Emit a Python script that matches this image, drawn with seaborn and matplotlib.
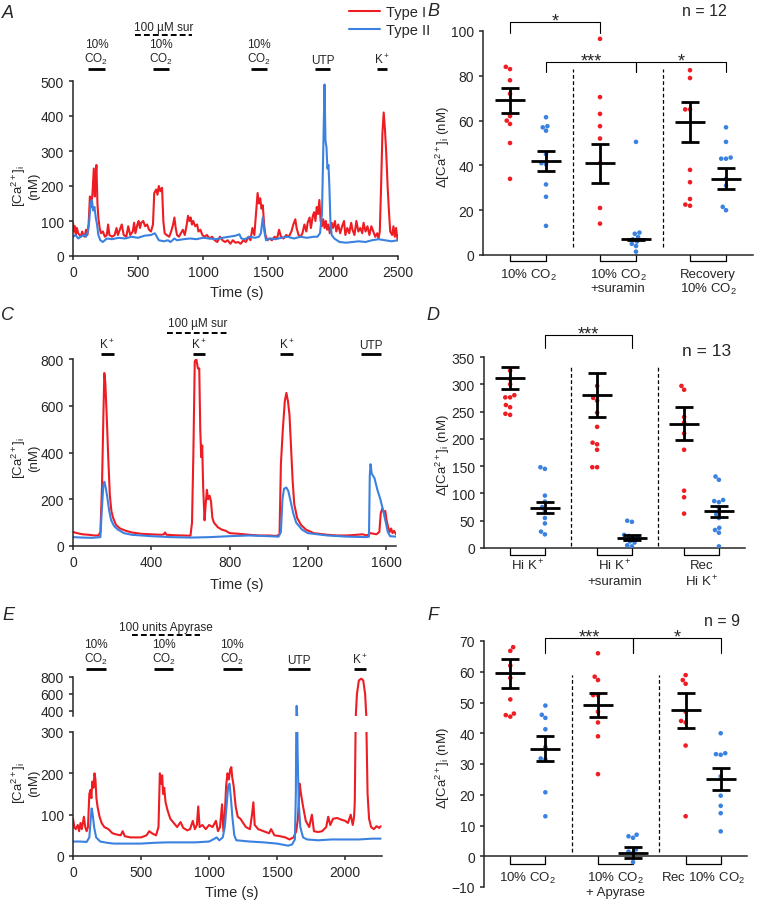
import numpy as np
import pandas as pd
import matplotlib
matplotlib.use("Agg")
import matplotlib.pyplot as plt
import matplotlib.transforms as mtransforms
from matplotlib.lines import Line2D
import seaborn as sns

RED = "#EE1D23"
BLUE = "#3B82E0"

# --- traces (time s, [Ca2+]i nM) ---
a_red = [[0, 95], [8, 70], [15, 85], [22, 60], [30, 80], [40, 65], [50, 60], [60, 55], [70, 70], [80, 60],
         [90, 55], [100, 75], [110, 60], [120, 90], [130, 170], [140, 140], [150, 180], [160, 250], [168, 170],
         [175, 230], [180, 260], [188, 150], [195, 110], [205, 80], [215, 65], [230, 70], [245, 55], [260, 60],
         [270, 90], [280, 60], [300, 55], [320, 60], [335, 80], [345, 60], [360, 75], [375, 90], [390, 60],
         [410, 55], [425, 85], [440, 60], [460, 70], [470, 95], [480, 65], [495, 90], [505, 100], [515, 80],
         [525, 95], [540, 100], [555, 85], [570, 90], [585, 75], [600, 70], [615, 90], [625, 180], [640, 190],
         [650, 175], [660, 200], [672, 185], [685, 195], [695, 100], [705, 65], [720, 60], [740, 55], [755, 70],
         [770, 90], [780, 110], [790, 80], [800, 60], [815, 55], [830, 65], [845, 75], [860, 60], [875, 90],
         [885, 115], [895, 100], [905, 110], [915, 90], [925, 100], [940, 85], [955, 90], [965, 70], [980, 75],
         [995, 60], [1010, 55], [1030, 60], [1050, 50], [1070, 55], [1090, 45], [1110, 40], [1130, 55],
         [1150, 45], [1170, 40], [1190, 45], [1210, 35], [1230, 45], [1250, 38], [1270, 40], [1290, 35],
         [1310, 45], [1330, 40], [1350, 55], [1365, 45], [1380, 80], [1395, 60], [1410, 130], [1420, 180],
         [1430, 150], [1440, 165], [1450, 135], [1460, 145], [1470, 90], [1480, 60], [1495, 45], [1510, 50],
         [1530, 45], [1550, 55], [1570, 50], [1585, 75], [1600, 55], [1620, 50], [1640, 60], [1660, 55],
         [1680, 70], [1695, 90], [1710, 105], [1720, 80], [1735, 60], [1750, 55], [1765, 65], [1780, 90],
         [1795, 70], [1805, 95], [1820, 110], [1830, 80], [1845, 115], [1855, 125], [1865, 100], [1875, 140],
         [1885, 120], [1895, 160], [1905, 100], [1915, 85], [1925, 105], [1935, 80], [1945, 100], [1955, 75],
         [1965, 90], [1975, 65], [1990, 95], [2000, 80], [2015, 100], [2025, 70], [2040, 90], [2055, 65],
         [2070, 85], [2085, 100], [2095, 60], [2110, 80], [2125, 65], [2140, 95], [2150, 75], [2165, 60],
         [2180, 100], [2195, 70], [2210, 80], [2225, 65], [2235, 95], [2250, 70], [2265, 85], [2280, 60],
         [2295, 85], [2310, 70], [2325, 55], [2340, 65], [2350, 50], [2360, 70], [2370, 200], [2380, 350],
         [2390, 410], [2400, 360], [2410, 290], [2420, 200], [2430, 130], [2440, 70], [2455, 60], [2465, 85],
         [2475, 55], [2485, 80], [2495, 50], [2500, 45]]
a_blue = [[0, 55], [20, 60], [40, 50], [60, 55], [80, 60], [100, 55], [115, 70], [125, 100], [135, 150],
          [145, 160], [155, 130], [165, 140], [175, 110], [185, 90], [195, 60], [210, 45], [230, 40], [260, 50],
          [300, 48], [350, 52], [400, 50], [450, 55], [500, 52], [550, 58], [600, 60], [630, 65], [645, 55],
          [660, 45], [700, 42], [730, 45], [750, 40], [780, 50], [800, 45], [850, 48], [900, 50], [950, 48],
          [1000, 52], [1050, 50], [1100, 48], [1150, 52], [1200, 55], [1250, 58], [1280, 62], [1295, 50],
          [1320, 48], [1360, 55], [1400, 52], [1430, 55], [1445, 65], [1460, 110], [1472, 70], [1485, 45],
          [1520, 50], [1560, 48], [1600, 52], [1650, 55], [1700, 50], [1750, 55], [1800, 52], [1850, 55],
          [1880, 55], [1900, 65], [1915, 120], [1925, 300], [1935, 490], [1942, 330], [1950, 310], [1957, 250],
          [1965, 260], [1972, 200], [1980, 100], [1990, 60], [2010, 50], [2050, 40], [2100, 38], [2150, 40],
          [2200, 42], [2250, 40], [2300, 45], [2350, 48], [2400, 45], [2450, 42], [2500, 45]]

c_red = [[0, 60], [20, 55], [50, 50], [80, 48], [110, 45], [130, 45], [140, 60], [148, 250], [155, 550],
         [160, 740], [165, 700], [172, 560], [180, 380], [188, 220], [196, 150], [205, 120], [220, 90], [240, 75],
         [270, 65], [300, 58], [350, 52], [400, 50], [450, 48], [465, 50], [470, 58], [478, 48], [520, 46],
         [560, 45], [600, 44], [608, 100], [615, 400], [622, 790], [630, 800], [638, 760], [645, 760],
         [650, 500], [655, 380], [660, 430], [665, 250], [672, 110], [678, 180], [684, 240], [690, 200],
         [698, 215], [705, 190], [712, 120], [720, 100], [740, 80], [760, 70], [780, 65], [800, 55], [850, 52],
         [900, 48], [950, 45], [1000, 45], [1040, 43], [1055, 50], [1062, 350], [1072, 500], [1082, 620],
         [1090, 655], [1098, 620], [1106, 560], [1114, 420], [1122, 280], [1130, 180], [1145, 120], [1165, 90],
         [1190, 70], [1230, 55], [1300, 48], [1350, 45], [1400, 45], [1450, 48], [1480, 50], [1500, 45],
         [1520, 55], [1550, 50], [1565, 60], [1572, 140], [1580, 160], [1588, 145], [1595, 150], [1602, 110],
         [1610, 80], [1618, 60], [1625, 75], [1632, 55], [1640, 65], [1650, 50]]
c_blue = [[0, 38], [50, 36], [100, 35], [140, 38], [147, 150], [155, 260], [160, 275], [167, 250], [175, 210],
          [185, 150], [195, 110], [210, 85], [230, 70], [260, 55], [300, 48], [400, 42], [500, 38], [600, 36],
          [700, 38], [800, 42], [900, 45], [1000, 42], [1050, 40], [1062, 60], [1070, 200], [1078, 245],
          [1090, 250], [1100, 235], [1112, 190], [1125, 140], [1140, 100], [1170, 70], [1200, 55], [1300, 45],
          [1400, 40], [1500, 38], [1512, 40], [1516, 300], [1520, 350], [1526, 310], [1533, 300], [1540, 290],
          [1555, 240], [1570, 200], [1585, 150], [1598, 100], [1608, 60], [1620, 42], [1650, 40]]

e_red = [[0, 90], [10, 70], [20, 65], [35, 75], [45, 60], [55, 80], [65, 65], [80, 95], [90, 70], [100, 60],
         [110, 70], [120, 150], [128, 160], [135, 140], [142, 180], [150, 165], [158, 200], [165, 185],
         [172, 140], [180, 120], [195, 95], [210, 80], [230, 70], [260, 65], [290, 55], [320, 52], [350, 50],
         [365, 60], [380, 48], [420, 45], [460, 45], [500, 45], [540, 50], [560, 60], [580, 55], [610, 50],
         [628, 70], [638, 200], [648, 175], [655, 195], [662, 150], [670, 165], [680, 130], [695, 110],
         [715, 90], [740, 80], [765, 70], [790, 82], [810, 68], [840, 62], [860, 65], [880, 85], [895, 65],
         [910, 75], [920, 120], [930, 70], [950, 75], [975, 65], [1000, 75], [1025, 70], [1050, 85], [1065, 60],
         [1080, 70], [1095, 125], [1105, 60], [1115, 100], [1125, 170], [1135, 200], [1145, 185], [1155, 210],
         [1163, 215], [1170, 190], [1180, 170], [1195, 120], [1210, 95], [1230, 90], [1250, 80], [1270, 70],
         [1300, 65], [1315, 100], [1325, 130], [1335, 75], [1360, 65], [1400, 60], [1440, 55], [1455, 65],
         [1480, 50], [1520, 48], [1560, 45], [1590, 40], [1620, 45], [1640, 60], [1652, 90], [1665, 175],
         [1675, 150], [1690, 120], [1710, 85], [1735, 70], [1755, 100], [1770, 60], [1800, 58], [1830, 60],
         [1860, 70], [1875, 95], [1890, 75], [1910, 90], [1940, 92], [1970, 88], [2000, 85], [2020, 80],
         [2040, 100], [2055, 75], [2065, 95], [2070, 130], [2076, 300], [2086, 600], [2100, 760], [2118, 780],
         [2132, 760], [2146, 600], [2156, 300], [2164, 150], [2175, 90], [2190, 70], [2210, 65], [2230, 72],
         [2250, 68], [2260, 72]]
e_blue = [[0, 35], [50, 35], [100, 34], [120, 45], [130, 90], [137, 115], [145, 100], [155, 70], [170, 45],
          [200, 35], [250, 32], [300, 30], [400, 30], [500, 30], [600, 32], [700, 33], [800, 33], [900, 33],
          [1000, 35], [1040, 42], [1055, 45], [1075, 38], [1100, 45], [1115, 70], [1128, 120], [1140, 170],
          [1150, 175], [1160, 140], [1172, 90], [1185, 50], [1200, 38], [1300, 35], [1400, 33], [1500, 30],
          [1580, 25], [1610, 28], [1630, 40], [1637, 150], [1643, 460], [1650, 250], [1658, 130], [1670, 70],
          [1690, 45], [1720, 40], [1800, 38], [1900, 40], [2000, 40], [2100, 40], [2200, 42], [2260, 42]]

# stimulus bars: (label, start s, end s)
a_stim = [("10%\nCO$_2$", 115, 246), ("10%\nCO$_2$", 615, 738), ("10%\nCO$_2$", 1369, 1492),
          ("UTP", 1862, 1977), ("K$^+$", 2338, 2415)]
c_stim = [("K$^+$", 142, 207), ("K$^+$", 612, 673), ("K$^+$", 1059, 1123), ("UTP", 1472, 1573)]
e_stim = [("10%\nCO$_2$", 96, 243), ("10%\nCO$_2$", 596, 737), ("10%\nCO$_2$", 1100, 1240),
          ("UTP", 1583, 1738), ("K$^+$", 2061, 2154)]

# --- summary data (delta [Ca2+]i, nM) ---
b_red = [[84, 83, 78, 72, 62, 60, 58.5, 50, 34],
         [96.5, 70.5, 63, 57.5, 52, 41, 21, 14],
         [82.5, 79, 65, 65, 38, 32.5, 25, 22.5, 22]]
b_blue = [[61.5, 57.5, 57, 55.5, 45, 41, 40.5, 31.5, 26, 13],
          [50.5, 10, 9.5, 8, 7, 6, 5, 4, 1.5],
          [57, 50.5, 43.5, 43, 43, 34, 31, 21.5, 20]]
b_red_mean, b_red_sem = [69, 41, 59.5], [5.5, 8.7, 9]
b_blue_mean, b_blue_sem = [42, 7, 34], [4.3, 0.3, 4.7]

d_red = [[325, 310, 300, 280, 276, 276, 262, 258, 246, 244],
         [297, 275, 270, 248, 222, 193, 190, 180, 148, 148],
         [297, 290, 240, 230, 210, 180, 105, 93, 63]]
d_blue = [[148, 145, 96, 85, 75, 68, 55, 45, 30, 25],
          [50, 48, 24, 22, 20, 18, 15, 12, 10, 5, 3],
          [131, 125, 88, 86, 84, 73, 62, 55, 37, 33, 28, 3]]
d_red_mean, d_red_sem = [311, 280, 228], [20, 40, 31]
d_blue_mean, d_blue_sem = [74, 19, 67], [10, 4, 10.5]

f_red = [[68, 66.8, 62, 58, 51, 46.4, 45.9, 45.4],
         [66, 58.4, 57.3, 52.4, 52.4, 47, 43.5, 39, 26.7],
         [58.9, 57.3, 56.1, 47, 44, 43.5, 36, 13]]
f_blue = [[49, 46, 45, 41.3, 35.5, 31.8, 31.5, 20.8, 13],
          [7, 6.5, 6, 2.2, 1.5, 1, -1.9],
          [40, 33.5, 33.2, 33, 26, 19.7, 16.4, 14, 8.1]]
f_red_mean, f_red_sem = [59.5, 49.2, 47.4], [4.7, 4, 5.6]
f_blue_mean, f_blue_sem = [35, 1.2, 25.1], [4.1, 1.8, 3.7]

b_labels = [["10% CO$_2$"], ["10% CO$_2$", "+suramin"], ["Recovery", "10% CO$_2$"]]
d_labels = [["Hi K$^+$"], ["Hi K$^+$", "+suramin"], ["Rec", "Hi K$^+$"]]
f_labels = [["10% CO$_2$"], ["10% CO$_2$", "+ Apyrase"], ["Rec 10% CO$_2$"]]

# --- style ---
sns.set_style("ticks")
plt.rcParams["font.family"] = ["Liberation Sans", "DejaVu Sans"]
plt.rcParams["mathtext.fontset"] = "custom"
plt.rcParams["mathtext.rm"] = "Liberation Sans"
plt.rcParams["mathtext.it"] = "Liberation Sans:italic"
plt.rcParams["mathtext.default"] = "regular"
plt.rcParams["axes.linewidth"] = 1.1
plt.rcParams["xtick.major.width"] = 1.1
plt.rcParams["ytick.major.width"] = 1.1
plt.rcParams["xtick.major.size"] = 3
plt.rcParams["ytick.major.size"] = 3
plt.rcParams["xtick.labelsize"] = 10
plt.rcParams["ytick.labelsize"] = 10
plt.rcParams["axes.unicode_minus"] = True

W, H = 758, 903
fig = plt.figure(figsize=(W / 100, H / 100), dpi=100)


def box(l, t, r, b):
    return fig.add_axes([l / W, 1 - b / H, (r - l) / W, (b - t) / H])


def fy(ypx):
    return 1 - ypx / H


def traces(ax, red, blue):
    red = np.array(red, dtype=float)
    blue = np.array(blue, dtype=float)
    sns.lineplot(x=red[:, 0], y=red[:, 1], color=RED, lw=1.5, estimator=None, sort=False, ax=ax)
    sns.lineplot(x=blue[:, 0], y=blue[:, 1], color=BLUE, lw=1.5, estimator=None, sort=False, ax=ax)
    sns.despine(ax=ax)


def stimuli(ax, items, bar_y, text_y):
    tr = mtransforms.blended_transform_factory(ax.transData, fig.transFigure)
    for label, t0, t1 in items:
        ax.plot([t0, t1], [fy(bar_y)] * 2, transform=tr, color="k", lw=2, clip_on=False,
                solid_capstyle="butt")
        ax.text((t0 + t1) / 2, fy(text_y), label, transform=tr, ha="center", va="bottom",
                fontsize=8.5, linespacing=1.1)


def drug(ax, label, t0, t1, line_y, text_y):
    tr = mtransforms.blended_transform_factory(ax.transData, fig.transFigure)
    ax.plot([t0, t1], [fy(line_y)] * 2, transform=tr, color="k", lw=1.4, ls=(0, (3, 1.6)), clip_on=False)
    ax.text((t0 + t1) / 2, fy(text_y), label, transform=tr, ha="center", va="center", fontsize=8.5)


def summary(ax, red, blue, red_mean, red_sem, blue_mean, blue_sem, ylim, yticks, labels, lab_y, lab_dy,
            box_px, dash_span):
    rows = []
    for i in range(3):
        rows += [(i, "I", v) for v in red[i]]
        rows += [(i, "II", v) for v in blue[i]]
    df = pd.DataFrame(rows, columns=["cond", "type", "val"])
    sns.swarmplot(data=df, x="cond", y="val", hue="type", order=[0, 1, 2], hue_order=["I", "II"],
                  dodge=True, palette=[RED, BLUE], size=3.3, legend=False, ax=ax)
    pos = np.arange(3)
    for off, m, s in [(-0.2, red_mean, red_sem), (0.2, blue_mean, blue_sem)]:
        x = pos + off
        ax.errorbar(x, m, yerr=s, fmt="none", ecolor="k", elinewidth=2, capsize=6.5, capthick=2, zorder=5)
        ax.hlines(m, x - 0.17, x + 0.17, color="k", lw=2, zorder=5)
    ax.set_xlim(-0.5, 2.5)
    ax.set_ylim(*ylim)
    ax.set_yticks(yticks)
    ax.set_xticks([])
    ax.set_xlabel("")
    ax.set_ylabel("")
    sns.despine(ax=ax)
    for xd in (0.5, 1.5):
        ax.plot([xd, xd], dash_span, color="k", lw=0.9, ls=(0, (3, 2)))
    # open boxes hanging below the axis
    y0 = max(ylim[0], 0)
    depth = box_px * (ylim[1] - ylim[0]) / (ax.get_window_extent().height)
    for i in range(3):
        ax.plot([i - 0.2, i - 0.2, i + 0.2, i + 0.2], [y0, y0 - depth, y0 - depth, y0], color="k",
                lw=0.9, clip_on=False)
    tr = mtransforms.blended_transform_factory(ax.transData, fig.transFigure)
    for i, lines in enumerate(labels):
        for k, txt in enumerate(lines):
            ax.text(i, fy(lab_y + k * lab_dy), txt, transform=tr, ha="center", va="center", fontsize=9.5)


def sig(ax, x0, x1, y, leg0, leg1, label):
    ax.plot([x0, x0, x1, x1], [leg0, y, y, leg1], color="k", lw=0.8, clip_on=False)
    ax.annotate(label, xy=((x0 + x1) / 2, y), xytext=(0, -2.5), textcoords="offset points",
                ha="center", va="baseline", fontsize=13, annotation_clip=False)


# ---------- A ----------
ax_a = box(73, 82, 398, 257)
traces(ax_a, a_red, a_blue)
ax_a.set_xlim(0, 2500)
ax_a.set_ylim(0, 500)
ax_a.set_xticks(range(0, 2501, 500))
ax_a.set_yticks(range(0, 501, 100))
stimuli(ax_a, a_stim, 70, 67)
drug(ax_a, "100 µM sur", 477, 915, 36, 28)

# ---------- C ----------
ax_c = box(73, 360, 396, 547)
traces(ax_c, c_red, c_blue)
ax_c.set_xlim(0, 1650)
ax_c.set_ylim(0, 800)
ax_c.set_xticks(range(0, 1601, 400))
ax_c.set_yticks(range(0, 801, 200))
stimuli(ax_c, c_stim, 355, 352)
drug(ax_c, "100 µM sur", 480, 793, 334, 324)

# ---------- E (broken axis) ----------
ax_e = box(73, 733, 382, 857)
traces(ax_e, e_red, e_blue)
ax_e.set_xlim(0, 2270)
ax_e.set_ylim(0, 300)
ax_e.set_xticks(range(0, 2001, 500))
ax_e.set_yticks([0, 100, 200, 300])
ax_e2 = box(73, 678, 382, 717)
traces(ax_e2, e_red, e_blue)
ax_e2.set_xlim(0, 2270)
ax_e2.set_ylim(341, 800)
ax_e2.set_yticks([400, 600, 800])
ax_e2.spines["bottom"].set_visible(False)
ax_e2.tick_params(axis="x", bottom=False, labelbottom=False)
ax_e2.set_xlabel("")
stimuli(ax_e, e_stim, 670, 667)
drug(ax_e, "100 units Apyrase", 431, 934, 636, 628)

for ax in (ax_a, ax_c, ax_e, ax_e2):
    ax.set_ylabel("")
    ax.set_xlabel("")
for ypx, xpx in [(293, 237), (585, 237), (893, 232)]:
    fig.text(xpx / W, fy(ypx), "Time (s)", ha="center", va="center", fontsize=10.5)
for ypx in (186, 458, 783):
    fig.text(25 / W, fy(ypx), "[Ca$^{2+}$]$_i$\n(nM)", rotation=90, ha="center", va="center",
             fontsize=9.5, linespacing=1.0)

# ---------- B ----------
ax_b = box(483, 32, 753, 256)
summary(ax_b, b_red, b_blue, b_red_mean, b_red_sem, b_blue_mean, b_blue_sem, (0, 100),
        range(0, 101, 20), b_labels, 275, 14, 6, (3.4, 83))
sig(ax_b, -0.2, 0.8, 104, 99, 99, "*")
sig(ax_b, 0.2, 1.2, 86, 81.7, 81.7, "***")
sig(ax_b, 1.2, 2.2, 86, 81.7, 81.7, "*")

# ---------- D ----------
ax_d = box(484, 358, 745, 549)
summary(ax_d, d_red, d_blue, d_red_mean, d_red_sem, d_blue_mean, d_blue_sem, (0, 350),
        range(0, 351, 50), d_labels, 566, 16, 6.5, (4, 333))
sig(ax_d, 0.2, 1.2, 390, 367, 367, "***")

# ---------- F ----------
ax_f = box(484, 642, 747, 888)
summary(ax_f, f_red, f_blue, f_red_mean, f_red_sem, f_blue_mean, f_blue_sem, (-10, 70),
        range(-10, 71, 10), f_labels, 878, 15, 8, (1.3, 59))
ax_f.spines["bottom"].set_position(("data", 0))
sig(ax_f, 0.2, 1.2, 71, 66, 66, "***")
sig(ax_f, 1.2, 2.2, 71, 66, 66, "*")

for ypx in (147, 455, 768):
    fig.text(443 / W, fy(ypx), "Δ[Ca$^{2+}$]$_i$ (nM)", rotation=90, ha="center", va="center", fontsize=9.5)

# n labels
fig.text(704 / W, fy(12), "n = 12", ha="center", va="center", fontsize=11.5)
fig.text(707 / W, fy(352), "n = 13", ha="center", va="center", fontsize=12.5)
fig.text(722 / W, fy(622), "n = 9", ha="center", va="center", fontsize=11.5)

# panel letters
for letter, xpx, ypx in [("A", 8, 13), ("B", 433, 12), ("C", 8, 316), ("D", 433, 316),
                         ("E", 8, 615), ("F", 433, 615)]:
    fig.text(xpx / W, fy(ypx), letter, ha="center", va="center", fontsize=13, style="italic")

# legend
handles = [Line2D([], [], color=RED, lw=1.5), Line2D([], [], color=BLUE, lw=1.5)]
fig.legend(handles, ["Type I", "Type II"], loc="upper left", bbox_to_anchor=(349 / W, fy(6)),
           frameon=False, fontsize=10.5, handlelength=2.1, handletextpad=0.45, labelspacing=0.3,
           borderpad=0, borderaxespad=0)

fig.savefig("out.png", dpi=100)
